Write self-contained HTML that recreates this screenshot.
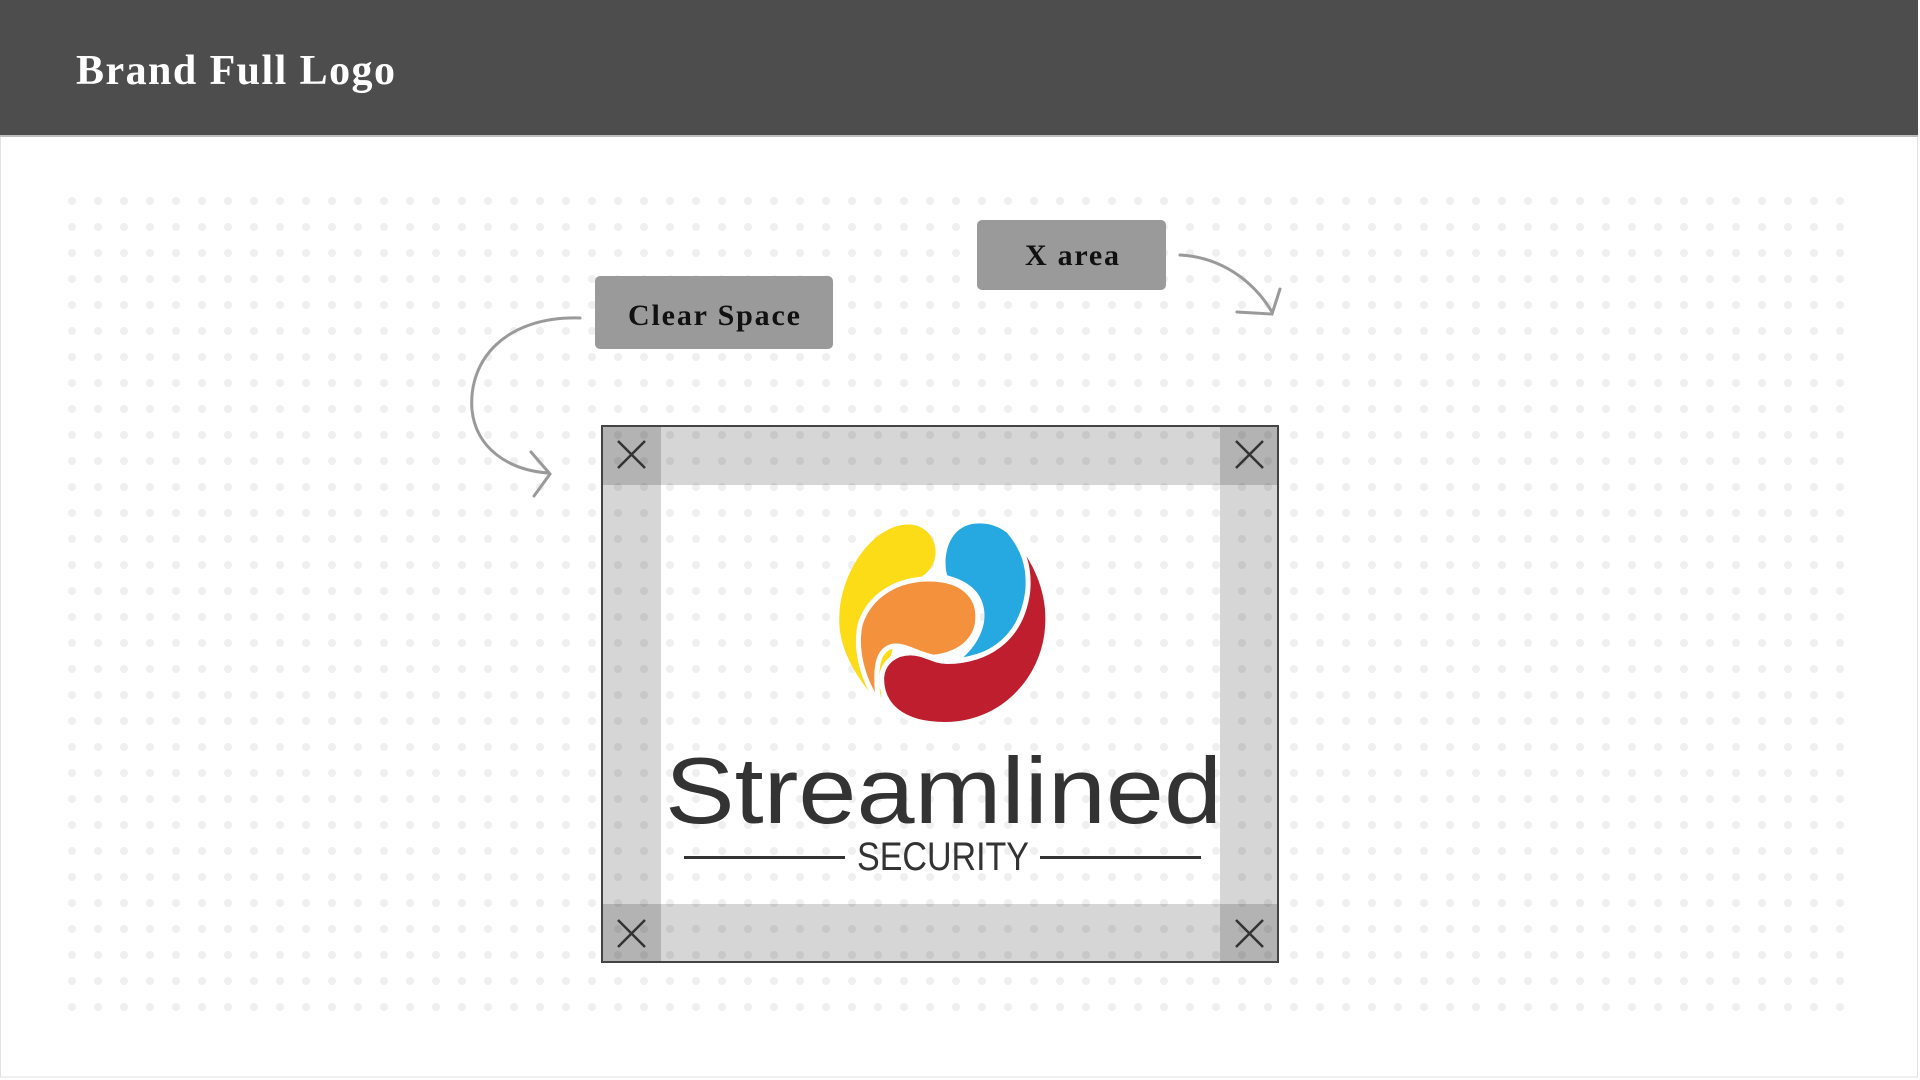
<!DOCTYPE html>
<html><head><meta charset="utf-8"><style>
html,body{margin:0;padding:0;background:#fff;}
svg{display:block;}
</style></head><body>
<svg width="1920" height="1080" viewBox="0 0 1920 1080" xmlns="http://www.w3.org/2000/svg">
<defs>
<pattern id="dots" x="59" y="188" width="26" height="26" patternUnits="userSpaceOnUse">
<circle cx="13" cy="13" r="4" fill="#efefef"/>
</pattern>
</defs>
<rect width="1920" height="1080" fill="#fff"/>
<rect x="0.5" y="130" width="1917" height="947" fill="none" stroke="#e2e2e2" stroke-width="1"/>
<rect x="0" y="0" width="1918" height="136" fill="#4d4d4d"/>
<rect x="0" y="135" width="1918" height="2" fill="#bdbdbd"/>
<text x="76" y="84" font-family="Liberation Serif, serif" font-weight="bold" font-size="42" fill="#fff" textLength="319">Brand Full Logo</text>
<rect x="59" y="188" width="1790" height="830" fill="url(#dots)"/>

<!-- labels -->
<rect x="595" y="276" width="238" height="73" rx="5" fill="#9a9a9a"/>
<text x="714" y="325" text-anchor="middle" font-family="Liberation Serif, serif" font-weight="bold" font-size="30" fill="#111" textLength="172">Clear Space</text>
<rect x="977" y="220" width="189" height="70" rx="5" fill="#9a9a9a"/>
<text x="1072" y="265" text-anchor="middle" font-family="Liberation Serif, serif" font-weight="bold" font-size="30" fill="#111" textLength="94">X area</text>

<!-- arrows -->
<g fill="none" stroke="#9a9a9a" stroke-width="3" stroke-linecap="round">
<path d="M580,318 C505,316 468,360 472,410 C476,448 508,470 548,473"/>
<path d="M531,452 L550,474 L534,496"/>
<path d="M1180,255 C1220,257 1253,280 1272,312"/>
<path d="M1237,312 L1272,314 L1280,289"/>
</g>

<!-- clear space box -->
<g fill="#000" fill-opacity="0.16">
<rect x="602" y="426" width="676" height="59"/>
<rect x="602" y="904" width="676" height="58"/>
<rect x="602" y="426" width="59" height="536"/>
<rect x="1220" y="426" width="58" height="536"/>
</g>
<rect x="602" y="426" width="676" height="536" fill="none" stroke="#444" stroke-width="2"/>
<g stroke="#333" stroke-width="2.5" fill="none">
<path d="M618,441 L645,468 M645,441 L618,468"/>
<path d="M1236,441 L1263,468 M1263,441 L1236,468"/>
<path d="M618,920 L645,947 M645,920 L618,947"/>
<path d="M1236,920 L1263,947 M1263,920 L1236,947"/>
</g>

<!-- logo mark -->
<svg x="580" y="410" width="720" height="570" viewBox="0 0 1568 1568" preserveAspectRatio="none">
<path d="M715,315 C760,315 785,370 770,420 C760,450 740,465 720,470 L650,805 C590,720 560,640 565,560 C570,440 640,315 715,315 Z" fill="#fcdc17"/>
<path d="M870,312 C940,312 985,400 978,500 C970,600 920,660 835,680 C870,640 885,590 880,550 C875,500 845,470 800,455 C790,420 795,312 870,312 Z" fill="#25a9e0"/>
<path d="M760,465 C830,465 875,510 865,590 C855,650 810,675 770,680 C730,670 710,645 680,650 C650,660 640,700 650,805 C610,730 600,650 610,590 C630,510 690,465 760,465 Z" fill="#f4913d" stroke="#fff" stroke-width="5" vector-effect="non-scaling-stroke"/>
<path d="M935,335 C990,400 1025,500 1018,600 C1010,740 920,865 795,865 C700,865 655,810 657,735 C660,690 690,668 720,668 C750,668 770,692 800,692 C880,690 960,640 975,500 C980,430 965,380 935,335 Z" fill="#be1e2d" stroke="#fff" stroke-width="5" vector-effect="non-scaling-stroke"/>
</svg>

<text x="665" y="823" font-family="Liberation Sans, sans-serif" font-size="94" fill="#333" textLength="557" lengthAdjust="spacingAndGlyphs">Streamlined</text>
<text x="857" y="870" font-family="Liberation Sans, sans-serif" font-size="40" fill="#333" textLength="172" lengthAdjust="spacingAndGlyphs">SECURITY</text>
<rect x="684" y="856" width="161" height="3" fill="#333"/>
<rect x="1040" y="856" width="161" height="3" fill="#333"/>
</svg>
</body></html>
